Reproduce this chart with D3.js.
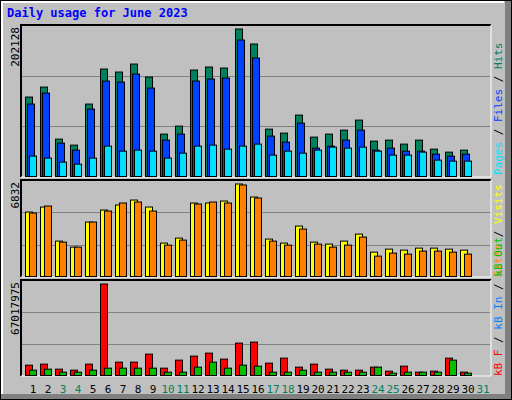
<!DOCTYPE html><html><head><meta charset="utf-8">
<script src="https://cdn.jsdelivr.net/npm/d3@7"></script>
<style>body{margin:0;background:#fff}text{font-family:"DejaVu Sans Mono",monospace}</style></head><body>
<script>
const days=[1,2,3,4,5,6,7,8,9,10,11,12,13,14,15,16,17,18,19,20,21,22,23,24,25,26,27,28,29,30,31];
const weekend=[3,4,10,11,17,18,24,25,31];
const hits=[108840,122560,51220,42990,99240,147250,143140,154110,136280,58080,69050,145880,150000,148620,202128,181550,64940,59450,84140,53960,58080,63560,77280,48470,49850,44360,49850,37500,33380,36130];
const files=[99240,114330,45730,36130,92370,130790,129420,140390,121180,49850,58080,130790,133530,134900,187040,162340,55330,47100,73170,38870,41610,49850,63560,36130,38870,34750,34750,30640,27900,30640];
const pages=[27900,25150,19660,16920,25150,41610,34750,36130,34750,25150,32010,41610,42990,37500,41610,44360,29270,34750,32010,36130,40240,38870,40240,34750,29270,29270,33380,22410,21040,21040];
const visits=[4760,5130,2614,2170,4020,4908,5278,5648,5130,2466,2836,5426,5426,5574,6832,5870,2762,2466,3724,2540,2392,2614,3132,1800,2022,1948,2096,2096,2022,1948];
const sites=[4686,5204,2540,2170,4020,4834,5426,5500,4834,2318,2688,5352,5500,5426,6758,5796,2614,2318,3502,2392,2170,2318,2910,1504,1726,1652,1874,1874,1800,1652];
const kbF=[7582000,8316000,4647000,3913000,8316000,67017975,9784000,9784000,15654000,5381000,11251000,14186000,16388000,11985000,23725000,24459000,9050000,12719000,6115000,8316000,4647000,3913000,3913000,6115000,3180000,6849000,2446000,3180000,12719000,2446000];
const kbOut=[3913000,4647000,2446000,2446000,3913000,5381000,5381000,5381000,5381000,2446000,2446000,6115000,9784000,5381000,7582000,6849000,2446000,2446000,3913000,2446000,2446000,2446000,2446000,6115000,1712000,2446000,2446000,2446000,11251000,1712000];
const yMaxLabels=["202128","6832","67017975"];

const W=512,H=400;
const svg=d3.select("body").append("svg").attr("width",W).attr("height",H);
svg.append("rect").attr("width",W).attr("height",H).attr("fill","#c0c0c0");
// 3D frame
svg.append("rect").attr("x",0.5).attr("y",0.5).attr("width",W-1).attr("height",H-1).attr("fill","none").attr("stroke","#000");
svg.append("path").attr("d","M2,396V2H504").attr("stroke","#fff").attr("stroke-width",2).attr("fill","none");
svg.append("rect").attr("x",505).attr("y",1).attr("width",6).attr("height",398).attr("fill","#808080");
svg.append("rect").attr("x",1).attr("y",394).attr("width",510).attr("height",5).attr("fill","#808080");
svg.append("text").attr("x",7).attr("y",17).attr("fill","#0000ff").attr("font-weight","bold").attr("font-size",12).text("Daily usage for June 2023");

const x=d3.scaleLinear().domain([1,31]).range([25,475]);
const L=21,R=491;
const panels=[{top:25,bot:177,max:202128,lab:yMaxLabels[0],series:[[hits,"#00805c",0],[files,"#0040ff",2],[pages,"#00e0ff",4]]},
{top:180,bot:277,max:6832,lab:yMaxLabels[1],series:[[visits,"#ffff00",0],[sites,"#ff8000",4]]},
{top:280,bot:376,max:67017975,lab:yMaxLabels[2],series:[[kbF,"#ff0000",0],[kbOut,"#00c000",4]]}];
panels.forEach(p=>{
  const h=p.bot-p.top;
  svg.append("path").attr("d",`M${L},${p.bot}V${p.top}H${R}`).attr("stroke","#000").attr("stroke-width",2).attr("fill","none");
  svg.append("path").attr("d",`M${R},${p.top}V${p.bot}H${L}`).attr("stroke","#fff").attr("stroke-width",1).attr("fill","none");
  [1/3,2/3].forEach(f=>svg.append("line").attr("x1",L+1).attr("x2",R-1).attr("y1",Math.round(p.bot-h*f)+0.5).attr("y2",Math.round(p.bot-h*f)+0.5).attr("stroke","#808080"));
  const y=d3.scaleLinear().domain([0,p.max]).range([p.bot-0.5,p.top+4]);
  p.series.forEach(([vals,col,off])=>{
    svg.append("g").selectAll("rect").data(vals).join("rect")
      .attr("x",(d,i)=>x(i+1)+off+0.5).attr("y",d=>y(d)).attr("width",7).attr("height",d=>p.bot-0.5-y(d))
      .attr("fill",col).attr("stroke","#000").attr("stroke-width",1);
  });
  svg.append("text").attr("transform",`translate(19,${p.top+2}) rotate(-90)`).attr("text-anchor","end").attr("font-size",11).attr("fill","#000").text(p.lab);
});
function sideLabel(y0,parts){
  const t=svg.append("text").attr("transform",`translate(502,${y0}) rotate(-90)`).attr("text-anchor","start").attr("font-size",11);
  parts.forEach(([s,c])=>t.append("tspan").attr("fill",c).text(s));
}
sideLabel(175,[["Pages","#00e0ff"],[" / ","#000"],["Files","#0040ff"],[" / ","#000"],["Hits","#00805c"]]);
sideLabel(277,[["Sites","#ff8000"],[" / ","#000"],["Visits","#ffff00"]]);
sideLabel(376,[["kB F","#ff0000"],[" / ","#000"],["kB In","#0080ff"],[" / ","#000"],["kB Out","#00c000"]]);
svg.append("g").selectAll("text").data(days).join("text")
  .attr("x",d=>x(d)+8).attr("y",393).attr("text-anchor","middle").attr("font-size",11)
  .attr("fill",d=>weekend.includes(d)?"#00805c":"#000").text(d=>d);
</script></body></html>
